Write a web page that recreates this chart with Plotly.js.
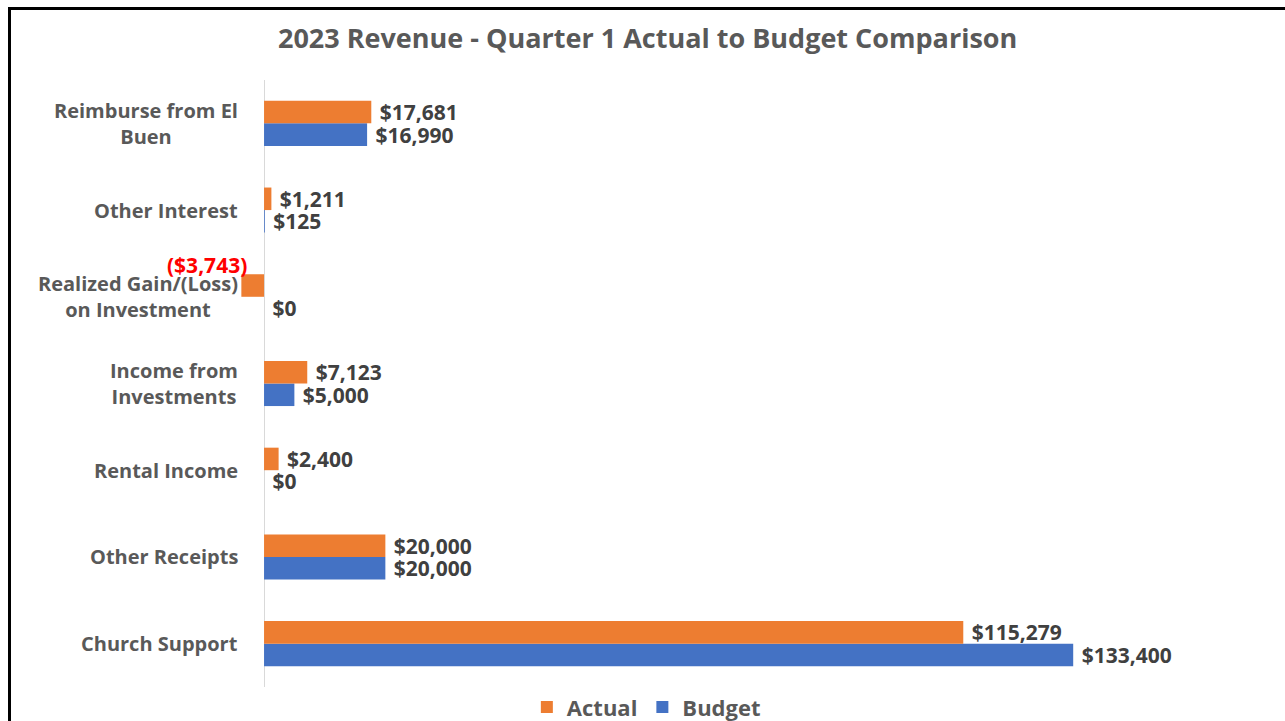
<!DOCTYPE html>
<html>
<head>
<meta charset="utf-8">
<script src="https://cdn.plot.ly/plotly-3.0.1.min.js"></script>
<style>
  html, body { margin: 0; padding: 0; background: #fff; }
  #wrap { position: relative; width: 1285px; height: 721px; overflow: hidden; }
  #chart { position: absolute; left: 0; top: 0; width: 1285px; height: 721px; }
  #frame { position: absolute; left: 8px; top: 7px; width: 1300px; height: 740px; border: 3px solid #000; pointer-events: none; box-sizing: border-box; }
</style>
</head>
<body>
<div id="wrap">
  <div id="chart"></div>
  <div id="frame"></div>
</div>
<script>
// ---- Data ----
const categories = [
  "Church Support",
  "Other Receipts",
  "Rental Income",
  "Income from Investments",
  "Realized Gain/(Loss) on Investment",
  "Other Interest",
  "Reimburse from El Buen"
];
const categoryLabels = [
  "Church Support",
  "Other Receipts",
  "Rental Income",
  "Income from<br>Investments",
  "Realized Gain/(Loss)<br>on Investment",
  "Other Interest",
  "Reimburse from El<br>Buen"
];
const actualValues = [115279, 20000, 2400, 7123, -3743, 1211, 17681];
const budgetValues = [133400, 20000, 0, 5000, 0, 125, 16990];
const seriesNames = ["Actual", "Budget"];
const chartTitle = "2023 Revenue - Quarter 1 Actual to Budget Comparison";

// ---- Helpers ----
function fmt(v) {
  const s = "$" + Math.abs(v).toLocaleString("en-US");
  return v < 0 ? "(" + s + ")" : s;
}

const FONT = "'Open Sans', Lato, 'Liberation Sans', sans-serif";
const ORANGE = "#ED7D31";
const BLUE = "#4472C4";
const LABEL_GRAY = "#404040";
const AXIS_GRAY = "#595959";

const budgetTrace = {
  type: "bar",
  orientation: "h",
  name: seriesNames[1],
  y: categories,
  x: budgetValues,
  marker: { color: BLUE },
  text: budgetValues.map(v => "\u00a0" + fmt(v)),
  texttemplate: "%{text}",
  textposition: "outside",
  constraintext: "none",
  cliponaxis: false,
  textfont: { family: FONT, size: 21, color: LABEL_GRAY, weight: 700 },
  legendrank: 2,
  hoverinfo: "skip"
};

const actualTrace = {
  type: "bar",
  orientation: "h",
  name: seriesNames[0],
  y: categories,
  x: actualValues,
  marker: { color: ORANGE },
  text: actualValues.map(v => v < 0 ? "" : "\u00a0" + fmt(v)),
  texttemplate: "%{text}",
  textposition: "outside",
  constraintext: "none",
  cliponaxis: false,
  textfont: { family: FONT, size: 21, color: LABEL_GRAY, weight: 700 },
  legendrank: 1,
  hoverinfo: "skip"
};

const annotations = [];
categories.forEach((c, i) => {
  annotations.push({
    xref: "paper", yref: "y",
    x: 0, y: c,
    xanchor: "right", yanchor: "middle",
    xshift: -1,
    align: "center",
    showarrow: false,
    text: categoryLabels[i],
    font: { family: FONT, size: 20, color: AXIS_GRAY, weight: 700 }
  });
});
actualValues.forEach((v, i) => {
  if (v < 0) {
    annotations.push({
      xref: "x", yref: "y",
      x: v, y: categories[i],
      xanchor: "right", yanchor: "middle",
      xshift: 8, yshift: 32,
      showarrow: false,
      text: fmt(v),
      font: { family: FONT, size: 21, color: "#FF0000", weight: 700 }
    });
  }
});

const layout = {
  width: 1285,
  height: 721,
  paper_bgcolor: "#ffffff",
  plot_bgcolor: "#ffffff",
  margin: { l: 241, r: 45, t: 80, b: 34, autoexpand: false },
  title: {
    text: chartTitle,
    x: 0.504, xref: "container", xanchor: "center",
    y: 0.947, yref: "container", yanchor: "middle",
    font: { family: FONT, size: 27, color: AXIS_GRAY, weight: 700 }
  },
  barmode: "group",
  bargap: 0.48,
  bargroupgap: 0,
  showlegend: true,
  legend: {
    orientation: "h",
    xref: "container", yref: "container",
    x: 0.503, xanchor: "center",
    y: 0.019, yanchor: "middle",
    font: { family: FONT, size: 22, color: AXIS_GRAY, weight: 700 },
    itemwidth: 30,
    traceorder: "normal"
  },
  xaxis: {
    range: [-3800, 160900],
    showticklabels: false,
    showgrid: false,
    zeroline: true,
    zerolinecolor: "#d9d9d9",
    zerolinewidth: 1,
    showline: false,
    fixedrange: true
  },
  yaxis: {
    type: "category",
    categoryorder: "array",
    categoryarray: categories,
    showticklabels: false,
    showgrid: false,
    zeroline: false,
    showline: false,
    ticks: "",
    fixedrange: true
  },
  annotations: annotations
};

Plotly.newPlot("chart", [budgetTrace, actualTrace], layout, { displayModeBar: false, staticPlot: true });
</script>
</body>
</html>
